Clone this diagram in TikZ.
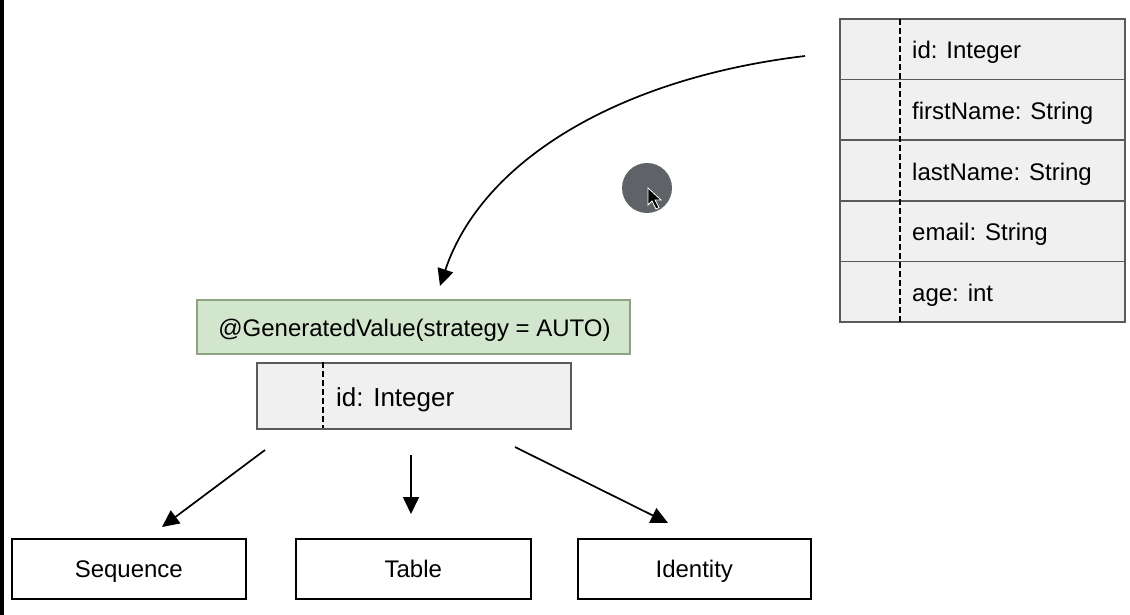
\documentclass[tikz,border=0pt]{standalone}
\usepackage{fontspec}
\setmainfont{Liberation Sans}
\usetikzlibrary{arrows.meta}
\definecolor{cellfill}{HTML}{F0F0F0}
\definecolor{cellline}{HTML}{5A5A5A}
\definecolor{greenfill}{HTML}{D2E6CD}
\definecolor{greenline}{HTML}{8DA383}
\definecolor{cursorgray}{HTML}{5F6368}
\tikzset{
  txt/.style={font=\fontsize{24}{28}\selectfont, inner sep=0pt, anchor=base west},
  ctxt/.style={font=\fontsize{24}{28}\selectfont, inner sep=0pt, anchor=base},
  cellbox/.style={draw=cellline, fill=cellfill, line width=1.6pt},
  greenbox/.style={draw=greenline, fill=greenfill, line width=1.6pt},
  choicebox/.style={draw=black, fill=white, line width=1.6pt},
  sep/.style={dashed, dash pattern=on 6pt off 3pt, line width=1.6pt, black},
  arr/.style={line width=1.7pt, -{Triangle[length=17pt,width=16pt]}},
}
\begin{document}
\begin{tikzpicture}[x=1pt,y=-1pt]
\useasboundingbox (0,0) rectangle (1130,615);
\fill[white] (0,0) rectangle (1130,615);
\fill[black] (0,0) rectangle (4,615);

% entity table (right)
\foreach \i/\t in {0/id: Integer,1/firstName: String,2/lastName: String,3/email: String,4/age: int}{
  \draw[cellbox] (840,{19+60.6*\i}) rectangle (1125,{19+60.6*(\i+1)});
  \node[txt] (row\i) at (912,{19+60.6*\i+40}) {\t};
}
\draw[sep] (900,19) -- (900,322);
\coordinate (tbl) at (805,56);

% annotation
\node[greenbox, minimum width=433pt, minimum height=54pt, inner sep=0pt, anchor=north west] (gen) at (196,299) {};
\node[ctxt] (gentext) at (414.5,336) {@GeneratedValue(strategy = AUTO)};

% id field
\node[cellbox, minimum width=314pt, minimum height=66pt, inner sep=0pt, anchor=north west] (idbox) at (256,362) {};
\draw[sep] (323,362) -- (323,428);
\node[txt, font=\fontsize{26}{30}\selectfont] (idtext) at (336,406) {id: Integer};

% strategy boxes
\node[choicebox, minimum width=234pt, minimum height=60pt, inner sep=0pt, anchor=north west] (seq) at (11,538) {};
\node[ctxt] at ([yshift=-9pt]seq.center) {Sequence};
\node[choicebox, minimum width=235pt, minimum height=60pt, inner sep=0pt, anchor=north west] (tab) at (295,538) {};
\node[ctxt] at ([yshift=-9pt]tab.center) {Table};
\node[choicebox, minimum width=233pt, minimum height=60pt, inner sep=0pt, anchor=north west] (ide) at (577,538) {};
\node[ctxt] at ([yshift=-9pt]ide.center) {Identity};

% arrow anchors
\coordinate (a1) at (265,450); \coordinate (b1) at (162,527);
\coordinate (a2) at (411,455); \coordinate (b2) at (411,514);
\coordinate (a3) at (515,447); \coordinate (b3) at (668,523);
\coordinate (genin) at (440,286);

\draw[arr] (a1) -- (b1);
\draw[arr] (a2) -- (b2);
\draw[arr] (a3) -- (b3);
\draw[arr] (tbl) .. controls (620,78) and (482,160) .. (genin);

% screen cursor
\fill[cursorgray] (647,188) circle (25pt);
\draw[white, line width=0.8pt, fill=black] (648,188) -- (648,205) -- (652,201) -- (656,209) -- (659,207.5) -- (655,200) -- (661,200) -- cycle;
\end{tikzpicture}
\end{document}
